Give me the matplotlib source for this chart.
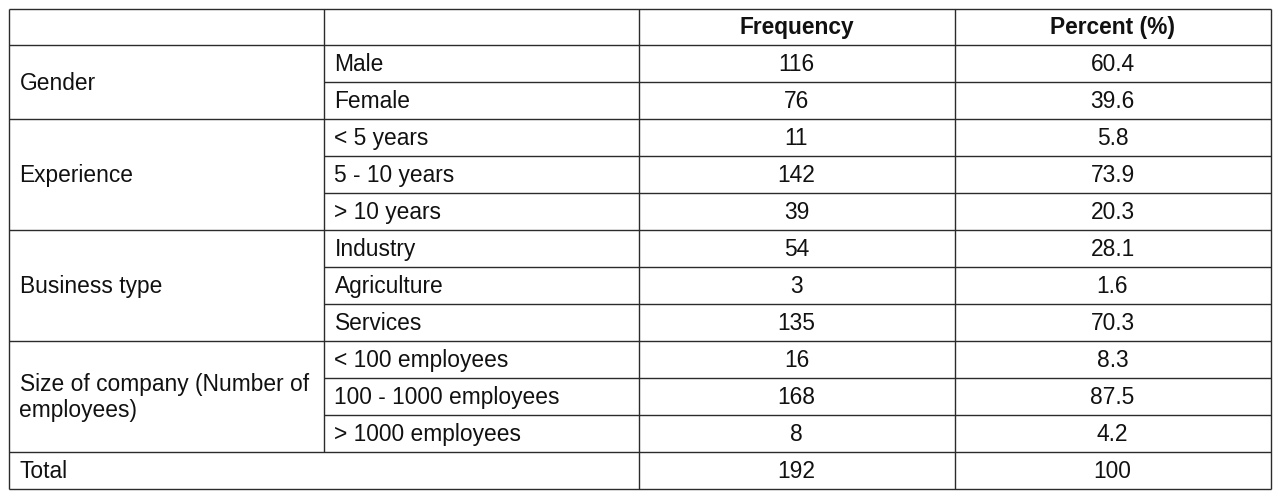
import matplotlib
matplotlib.use("Agg")
import matplotlib.pyplot as plt

plt.rcParams['font.family'] = ['Liberation Sans', 'DejaVu Sans']

headers = ["", "", "Frequency", "Percent (%)"]
groups = ["Gender", "Experience", "Business type", "Size of company (Number of\nemployees)"]
subcats = [["Male", "Female"],
           ["< 5 years", "5 - 10 years", "> 10 years"],
           ["Industry", "Agriculture", "Services"],
           ["< 100 employees", "100 - 1000 employees", "> 1000 employees"]]
frequency = [[116, 76], [11, 142, 39], [54, 3, 135], [16, 168, 8]]
percent = [["60.4", "39.6"], ["5.8", "73.9", "20.3"], ["28.1", "1.6", "70.3"], ["8.3", "87.5", "4.2"]]
total_label = "Total"
total_freq = 192
total_pct = "100"

W, H = 1281, 501
fig = plt.figure(figsize=(W / 100, H / 100), dpi=100)
ax = fig.add_axes([0, 0, 1, 1])
ax.set_xlim(0, W)
ax.set_ylim(H, 0)
ax.axis("off")

col_x = [8.5, 323.5, 638.5, 954.5, 1270.5]
top = 8.5
rh = 36.95
lc = "#2b2b2b"
lw = 1.0
fs = 16.4
tc = "#111111"

def hline(y, x0, x1):
    ax.plot([x0, x1], [y, y], color=lc, lw=lw, solid_capstyle="butt")

def vline(x, y0, y1):
    ax.plot([x, x], [y0, y1], color=lc, lw=lw, solid_capstyle="butt")

n_rows = 1 + sum(len(s) for s in subcats) + 1
bottom = top + n_rows * rh

# outer border
hline(top, col_x[0], col_x[-1])
hline(bottom, col_x[0], col_x[-1])
vline(col_x[0], top, bottom)
vline(col_x[-1], top, bottom)
vline(col_x[2], top, bottom)
vline(col_x[3], top, bottom)

# header
hline(top + rh, col_x[0], col_x[-1])
for j, h in enumerate(headers):
    if h:
        ax.text((col_x[j] + col_x[j + 1]) / 2, top + rh / 2 + 1, h, ha="center", va="center",
                fontsize=fs, fontweight="bold", color=tc)

r = 1
for g, subs, fr, pc in zip(groups, subcats, frequency, percent):
    y0 = top + r * rh
    y1 = y0 + len(subs) * rh
    ax.text(col_x[0] + 11, (y0 + y1) / 2 + 1, g, ha="left", va="center", fontsize=fs,
            color=tc, linespacing=1.12)
    for k, (s, f, p) in enumerate(zip(subs, fr, pc)):
        ya = y0 + k * rh
        yc = ya + rh / 2 + 1
        ax.text(col_x[1] + 11, yc, s, ha="left", va="center", fontsize=fs, color=tc)
        ax.text((col_x[2] + col_x[3]) / 2, yc, str(f), ha="center", va="center", fontsize=fs, color=tc)
        ax.text((col_x[3] + col_x[4]) / 2, yc, p, ha="center", va="center", fontsize=fs, color=tc)
        if k > 0:
            hline(ya, col_x[1], col_x[-1])
    hline(y1, col_x[0], col_x[-1])
    r += len(subs)

# column 1 divider (header + group rows, not total)
vline(col_x[1], top, top + r * rh)

# total row
y0 = top + r * rh
yc = y0 + rh / 2 + 1
ax.text(col_x[0] + 11, yc, total_label, ha="left", va="center", fontsize=fs, color=tc)
ax.text((col_x[2] + col_x[3]) / 2, yc, str(total_freq), ha="center", va="center", fontsize=fs, color=tc)
ax.text((col_x[3] + col_x[4]) / 2, yc, total_pct, ha="center", va="center", fontsize=fs, color=tc)

fig.savefig("out.png", dpi=100, facecolor="white")
